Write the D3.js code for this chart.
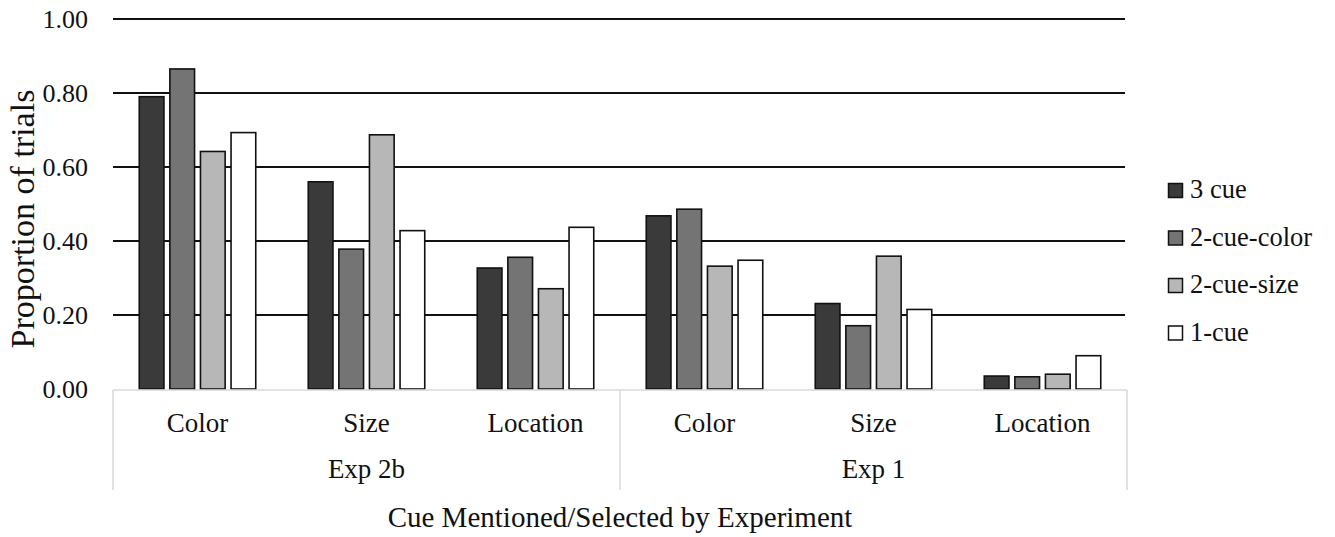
<!DOCTYPE html>
<html>
<head>
<meta charset="utf-8">
<script src="https://cdn.jsdelivr.net/npm/d3@7"></script>
</head>
<body style="margin:0">
<svg id="chart" width="1335" height="537" style="display:block"></svg>
<script>
// Groups and categories along the x axis
const experiments = ["Exp 2b", "Exp 1"];
const cues = ["Color", "Size", "Location"];

// Series (conditions) and their fills
const seriesNames = ["3 cue", "2-cue-color", "2-cue-size", "1-cue"];
const seriesFills = ["#3a3a3a", "#747474", "#b7b7b7", "#ffffff"];

// Proportion of trials, one array per condition, ordered Exp 2b (Color, Size, Location), Exp 1 (Color, Size, Location)
const threeCue    = [0.79, 0.56, 0.327, 0.468, 0.231, 0.035];
const twoCueColor = [0.865, 0.378, 0.356, 0.486, 0.171, 0.033];
const twoCueSize  = [0.642, 0.687, 0.271, 0.332, 0.359, 0.040];
const oneCue      = [0.693, 0.428, 0.437, 0.348, 0.215, 0.090];
const seriesValues = [threeCue, twoCueColor, twoCueSize, oneCue];

const yTicks = [0, 0.2, 0.4, 0.6, 0.8, 1.0];

const FONT = "'Liberation Serif', Tinos";
const INK = "#111";
const svg = d3.select("#chart");
const plotLeft = 113, plotRight = 1127, plotTop = 19, plotBottom = 389;

const categories = [];
experiments.forEach(e => cues.forEach(c => categories.push(e + "|" + c)));

const x = d3.scaleBand().domain(categories).range([plotLeft, plotRight]).paddingInner(0).paddingOuter(0);
const inner = d3.scaleBand().domain(seriesNames).range([0, x.bandwidth()])
  .paddingInner(0.193).paddingOuter(0.858);
const y = d3.scaleLinear().domain([0, 1]).range([plotBottom, plotTop]);

function label(sel, size) {
  return sel.style("font-family", FONT).style("font-size", size + "px").attr("fill", INK);
}

// Horizontal gridlines
svg.append("g").selectAll("line").data(yTicks.filter(t => t > 0)).join("line")
  .attr("x1", plotLeft).attr("x2", plotRight - 2)
  .attr("y1", d => y(d)).attr("y2", d => y(d))
  .attr("stroke", INK).attr("stroke-width", 2);

// Y axis tick labels
const yAxis = d3.axisLeft(y).tickValues(yTicks).tickFormat(d3.format(".2f")).tickSize(0).tickPadding(25);
const yg = svg.append("g").attr("transform", `translate(${plotLeft},0)`).call(yAxis);
yg.attr("font-family", null);
yg.select(".domain").remove();
label(yg.selectAll("text"), 26);

// Bars
const rows = [];
categories.forEach((cat, i) => {
  seriesNames.forEach((s, j) => rows.push({ cat, s, v: seriesValues[j][i], fill: seriesFills[j] }));
});
svg.append("g").selectAll("rect").data(rows).join("rect")
  .attr("x", d => x(d.cat) + inner(d.s))
  .attr("width", inner.bandwidth())
  .attr("y", d => y(d.v))
  .attr("height", d => y(0) - y(d.v))
  .attr("fill", d => d.fill)
  .attr("stroke", INK).attr("stroke-width", 1.6);

// Baseline and multi-level category frame
const frame = svg.append("g").attr("stroke", "#d9d9d9").attr("stroke-width", 1.5);
frame.append("line").attr("x1", plotLeft).attr("x2", plotRight).attr("y1", plotBottom + 1).attr("y2", plotBottom + 1);
const dividers = [plotLeft, x(categories[3]), plotRight];
frame.selectAll("line.div").data(dividers).join("line").attr("class", "div")
  .attr("x1", d => d).attr("x2", d => d).attr("y1", plotBottom + 1).attr("y2", 490);

// Category labels
label(svg.append("g").selectAll("text").data(categories).join("text"), 27)
  .attr("x", d => x(d) + x.bandwidth() / 2)
  .attr("y", 432)
  .attr("text-anchor", "middle")
  .text(d => d.split("|")[1]);

// Experiment labels
label(svg.append("g").selectAll("text").data(experiments).join("text"), 27)
  .attr("x", (d, i) => x(categories[i * 3]) + x.bandwidth() * 1.5)
  .attr("y", 478)
  .attr("text-anchor", "middle")
  .text(d => d);

// Axis titles
label(svg.append("text"), 29)
  .attr("x", (plotLeft + plotRight) / 2).attr("y", 527)
  .attr("text-anchor", "middle")
  .text("Cue Mentioned/Selected by Experiment");
label(svg.append("text"), 34)
  .attr("transform", `translate(34,${(plotTop + plotBottom) / 2 + 15}) rotate(-90)`)
  .attr("text-anchor", "middle")
  .text("Proportion of trials");

// Legend
const legend = svg.append("g").selectAll("g").data(seriesNames).join("g")
  .attr("transform", (d, i) => `translate(1168,${183 + i * 47.5})`);
legend.append("rect").attr("width", 14).attr("height", 14).attr("x", 0.5).attr("y", 0.5)
  .attr("fill", (d, i) => seriesFills[i]).attr("stroke", INK).attr("stroke-width", 1.5);
label(legend.append("text"), 26.5).attr("x", 22).attr("y", 15).text(d => d);
</script>
</body>
</html>
